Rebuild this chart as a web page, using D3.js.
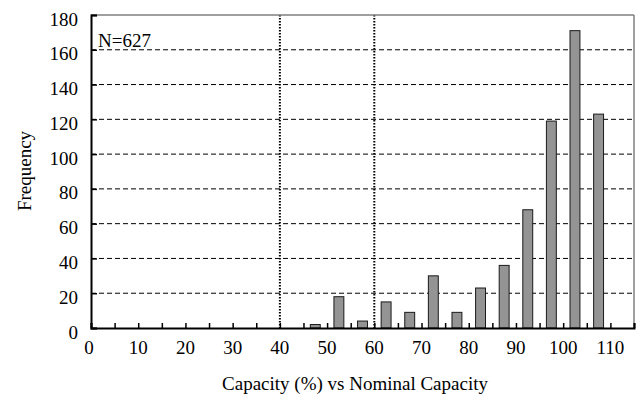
<!DOCTYPE html>
<html>
<head>
<meta charset="utf-8">
<script src="https://cdn.jsdelivr.net/npm/d3@7"></script>
<style>
  html, body { margin: 0; padding: 0; background: #fff; }
</style>
</head>
<body>
<svg id="chart" width="642" height="397"></svg>
<script>
// ---- data ----
const binStarts = [45, 50, 55, 60, 65, 70, 75, 80, 85, 90, 95, 100, 105];
const frequencies = [2, 18, 4, 15, 9, 30, 9, 23, 36, 68, 119, 171, 123];
const xTickLabels = [0, 10, 20, 30, 40, 50, 60, 70, 80, 90, 100, 110];
const yTickLabels = [0, 20, 40, 60, 80, 100, 120, 140, 160, 180];
const refLines = [40, 60];
const annotation = "N=627";
const xTitle = "Capacity (%) vs Nominal Capacity";
const yTitle = "Frequency";

// ---- layout ----
const FONT = "Liberation Serif";
const FS = 19;
const svg = d3.select("#chart");
const mLeft = 91, mRight = 634, mTop = 15, mBottom = 328;
const x = d3.scaleLinear().domain([0, 115]).range([mLeft, mRight]);
const y = d3.scaleLinear().domain([0, 180]).range([mBottom, mTop]);
const binW = 5, barHalf = 1.05;

// gridlines
svg.append("g").selectAll("line")
  .data(yTickLabels.filter(v => v > 0 && v < 180))
  .join("line")
  .attr("x1", mLeft).attr("x2", mRight)
  .attr("y1", d => y(d)).attr("y2", d => y(d))
  .attr("stroke", "#000").attr("stroke-width", 1)
  .attr("stroke-dasharray", "5,3");

// vertical dotted reference lines
svg.append("g").selectAll("line")
  .data(refLines)
  .join("line")
  .attr("x1", d => x(d)).attr("x2", d => x(d))
  .attr("y1", mTop).attr("y2", mBottom)
  .attr("stroke", "#000").attr("stroke-width", 2)
  .attr("stroke-dasharray", "1.5,1.5");

// bars
svg.append("g").selectAll("rect")
  .data(binStarts.map((b, i) => ({ b, v: frequencies[i] })))
  .join("rect")
  .attr("x", d => x(d.b + binW / 2 - barHalf))
  .attr("width", d => x(d.b + binW / 2 + barHalf) - x(d.b + binW / 2 - barHalf))
  .attr("y", d => y(d.v))
  .attr("height", d => y(0) - y(d.v))
  .attr("fill", "#949494")
  .attr("stroke", "#1a1a1a").attr("stroke-width", 1);

// frame: top and right in gray
svg.append("line").attr("x1", mLeft).attr("x2", mRight).attr("y1", mTop).attr("y2", mTop)
  .attr("stroke", "#7f7f7f").attr("stroke-width", 1.5);
svg.append("line").attr("x1", mRight).attr("x2", mRight).attr("y1", mTop).attr("y2", mBottom)
  .attr("stroke", "#7f7f7f").attr("stroke-width", 1.5);

// x axis (ticks inward every 5)
const xAxis = d3.axisBottom(x)
  .tickValues(d3.range(0, 116, 5))
  .tickSize(-5)
  .tickFormat("");
const gx = svg.append("g").attr("transform", `translate(0,${mBottom})`).call(xAxis);
gx.select(".domain").attr("stroke", "#000").attr("stroke-width", 2);
gx.selectAll(".tick line").attr("stroke", "#000").attr("stroke-width", 1.5);

svg.append("g").selectAll("text")
  .data(xTickLabels)
  .join("text")
  .attr("x", d => x(d) - (d === 0 ? 2 : 0))
  .attr("y", 354)
  .attr("text-anchor", "middle")
  .attr("font-family", FONT)
  .attr("font-size", FS)
  .attr("fill", "#000")
  .text(d => d);

// y axis (ticks inward)
const yAxis = d3.axisLeft(y)
  .tickValues(yTickLabels)
  .tickSize(-6)
  .tickFormat("");
const gy = svg.append("g").attr("transform", `translate(${mLeft},0)`).call(yAxis);
gy.select(".domain").attr("stroke", "#000").attr("stroke-width", 2);
gy.selectAll(".tick line").attr("stroke", "#000").attr("stroke-width", 1.5);

svg.append("g").selectAll("text")
  .data(yTickLabels)
  .join("text")
  .attr("x", 78)
  .attr("y", d => y(d) + 10.5)
  .attr("text-anchor", "end")
  .attr("font-family", FONT)
  .attr("font-size", FS)
  .attr("fill", "#000")
  .text(d => d);

// annotation
svg.append("text").attr("x", 98).attr("y", 47)
  .attr("font-family", FONT).attr("font-size", FS).attr("fill", "#000")
  .text(annotation);

// axis titles
svg.append("text").attr("x", 355).attr("y", 390)
  .attr("text-anchor", "middle")
  .attr("font-family", FONT).attr("font-size", FS).attr("fill", "#000")
  .text(xTitle);
svg.append("text")
  .attr("transform", "translate(31,171) rotate(-90)")
  .attr("text-anchor", "middle")
  .attr("font-family", FONT).attr("font-size", FS).attr("fill", "#000")
  .text(yTitle);
</script>
</body>
</html>
